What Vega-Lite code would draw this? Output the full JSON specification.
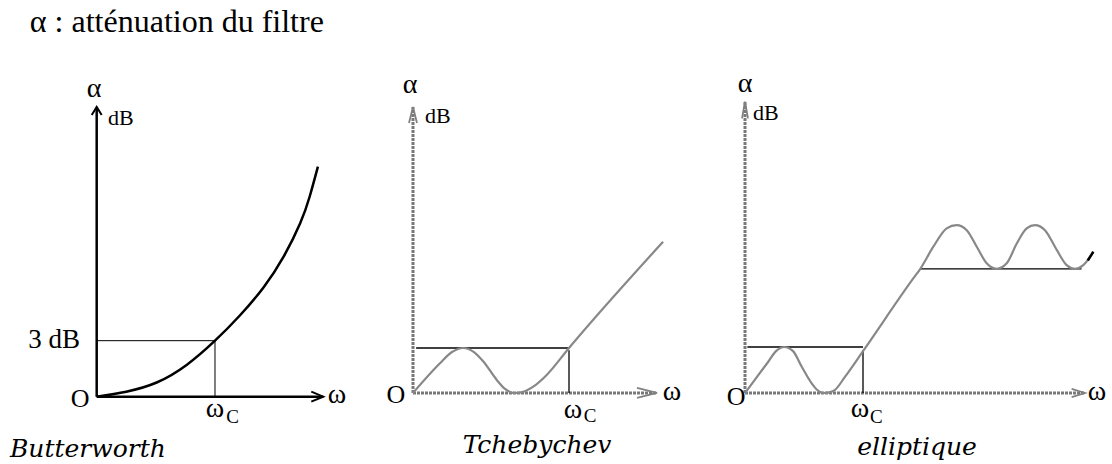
{
  "$schema": "https://vega.github.io/schema/vega-lite/v6.json",
  "padding": 0,
  "spacing": 0,
  "bounds": "flush",
  "background": "white",
  "config": {"view": {"stroke": null}, "text": {"font": "Liberation Serif, Times New Roman, Times, serif", "color": "black"}},
  "resolve": {"scale": {"x": "independent", "y": "independent"}},
  "hconcat": [
    {
      "width": 370,
      "height": 464,
      "encoding": {
        "x": {"field": "w", "type": "quantitative", "scale": {"domain": [-0.8174, 2.3103], "nice": false, "zero": false}, "axis": null},
        "y": {"field": "a", "type": "quantitative", "scale": {"domain": [-3.605, 21.248], "nice": false, "zero": false}, "axis": null}
      },
      "layer": [
        {
          "data": {"values": [{"w": 0, "a": 3, "w2": 1, "a2": 3}, {"w": 1, "a": 0, "w2": 1, "a2": 3}]},
          "mark": {"type": "rule", "color": "black", "strokeWidth": 1},
          "encoding": {"x2": {"field": "w2"}, "y2": {"field": "a2"}}
        },
        {
          "data": {"values": [{"w": 0, "a": 0, "w2": 0, "a2": 15.52}, {"w": 0, "a": 0, "w2": 1.915, "a2": 0}]},
          "mark": {"type": "rule", "color": "black", "strokeWidth": 2.5},
          "encoding": {"x2": {"field": "w2"}, "y2": {"field": "a2"}}
        },
        {
          "data": {"values": [
            {"w": -0.042, "a": 15.09, "g": "y", "o": 1}, {"w": 0, "a": 15.52, "g": "y", "o": 2}, {"w": 0.042, "a": 15.09, "g": "y", "o": 3},
            {"w": 1.814, "a": 0.268, "g": "x", "o": 1}, {"w": 1.915, "a": 0, "g": "x", "o": 2}, {"w": 1.814, "a": -0.268, "g": "x", "o": 3}
          ]},
          "mark": {"type": "line", "color": "black", "strokeWidth": 2},
          "encoding": {"detail": {"field": "g"}, "order": {"field": "o"}}
        },
        {
          "data": {"values": [
            {"w": 0, "a": 0}, {"w": 0.25, "a": 0.27}, {"w": 0.507, "a": 0.76}, {"w": 0.76, "a": 1.7}, {"w": 1.0, "a": 3.0},
            {"w": 1.21, "a": 4.35}, {"w": 1.41, "a": 5.85}, {"w": 1.58, "a": 7.5}, {"w": 1.72, "a": 9.29}, {"w": 1.8, "a": 10.71}, {"w": 1.87, "a": 12.32}
          ]},
          "mark": {"type": "line", "color": "black", "strokeWidth": 2.5, "interpolate": "natural"},
          "encoding": {"order": {"field": "w"}}
        },
        {
          "data": {"values": [{"w": -0.565, "a": 19.52, "t": "α : atténuation du filtre"}]},
          "mark": {"type": "text", "fontSize": 32, "align": "left", "baseline": "alphabetic"},
          "encoding": {"text": {"field": "t"}}
        },
        {
          "data": {"values": [{"w": -0.023, "a": 16.05, "t": "α"}, {"w": 2.031, "a": -0.34, "t": "ω"}, {"w": 1.0, "a": -1.09, "t": "ω"}]},
          "mark": {"type": "text", "fontSize": 28, "align": "center", "baseline": "alphabetic"},
          "encoding": {"text": {"field": "t"}}
        },
        {
          "data": {"values": [{"w": 0.0955, "a": 14.55, "t": "dB"}]},
          "mark": {"type": "text", "fontSize": 22, "align": "left", "baseline": "alphabetic"},
          "encoding": {"text": {"field": "t"}}
        },
        {
          "data": {"values": [{"w": -0.141, "a": 2.6, "t": "3 dB"}]},
          "mark": {"type": "text", "fontSize": 27, "align": "right", "baseline": "alphabetic"},
          "encoding": {"text": {"field": "t"}}
        },
        {
          "data": {"values": [{"w": -0.141, "a": -0.57, "t": "O"}]},
          "mark": {"type": "text", "fontSize": 26, "align": "center", "baseline": "alphabetic"},
          "encoding": {"text": {"field": "t"}}
        },
        {
          "data": {"values": [{"w": 1.095, "a": -1.41, "t": "C"}]},
          "mark": {"type": "text", "fontSize": 19, "align": "left", "baseline": "alphabetic"},
          "encoding": {"text": {"field": "t"}}
        },
        {
          "data": {"values": [{"w": -0.733, "a": -3.23, "t": "Butterworth"}]},
          "mark": {"type": "text", "font": "DejaVu Serif", "fontSize": 25, "fontStyle": "italic", "align": "left", "baseline": "alphabetic"},
          "encoding": {"text": {"field": "t"}}
        }
      ]
    },
    {
      "width": 330,
      "height": 464,
      "encoding": {
        "x": {"field": "w", "type": "quantitative", "scale": {"domain": [-0.2756, 1.8397], "nice": false, "zero": false}, "axis": null},
        "y": {"field": "a", "type": "quantitative", "scale": {"domain": [-1.578, 8.733], "nice": false, "zero": false}, "axis": null}
      },
      "layer": [
        {
          "data": {"values": [{"w": 0, "a": 0, "w2": 0, "a2": 6.356}, {"w": 0, "a": 0, "w2": 1.564, "a2": 0}]},
          "mark": {"type": "rule", "color": "#787878", "strokeWidth": 3, "strokeDash": [3, 1]},
          "encoding": {"x2": {"field": "w2"}, "y2": {"field": "a2"}}
        },
        {
          "data": {"values": [
            {"w": -0.0256, "a": 6.0, "g": "y", "o": 1}, {"w": 0, "a": 6.356, "g": "y", "o": 2}, {"w": 0.0256, "a": 6.0, "g": "y", "o": 3},
            {"w": 1.436, "a": 0.111, "g": "x", "o": 1}, {"w": 1.564, "a": 0, "g": "x", "o": 2}, {"w": 1.436, "a": -0.111, "g": "x", "o": 3}
          ]},
          "mark": {"type": "line", "color": "#808080", "strokeWidth": 1.8},
          "encoding": {"detail": {"field": "g"}, "order": {"field": "o"}}
        },
        {
          "data": {"values": [{"w": 0.02, "a": 1, "w2": 1, "a2": 1}, {"w": 1, "a": 0, "w2": 1, "a2": 0.95}]},
          "mark": {"type": "rule", "color": "black", "strokeWidth": 1.3},
          "encoding": {"x2": {"field": "w2"}, "y2": {"field": "a2"}}
        },
        {
          "data": {"values": [
            {"w": 0, "a": 0}, {"w": 0.173, "a": 0.66}, {"w": 0.25, "a": 0.91}, {"w": 0.322, "a": 1.0}, {"w": 0.391, "a": 0.91},
            {"w": 0.451, "a": 0.7}, {"w": 0.537, "a": 0.29}, {"w": 0.59, "a": 0.09}, {"w": 0.654, "a": 0}, {"w": 0.718, "a": 0.04},
            {"w": 0.771, "a": 0.14}, {"w": 0.857, "a": 0.4}, {"w": 1.0, "a": 1.0}, {"w": 1.603, "a": 3.36}
          ]},
          "mark": {"type": "line", "color": "#888888", "strokeWidth": 2.2, "interpolate": "monotone"},
          "encoding": {"order": {"field": "w"}}
        },
        {
          "data": {"values": [{"w": -0.019, "a": 6.667, "t": "α"}, {"w": 1.66, "a": -0.156, "t": "ω"}, {"w": 1.025, "a": -0.556, "t": "ω"}]},
          "mark": {"type": "text", "fontSize": 28, "align": "center", "baseline": "alphabetic"},
          "encoding": {"text": {"field": "t"}}
        },
        {
          "data": {"values": [{"w": 0.077, "a": 6.0, "t": "dB"}]},
          "mark": {"type": "text", "fontSize": 22, "align": "left", "baseline": "alphabetic"},
          "encoding": {"text": {"field": "t"}}
        },
        {
          "data": {"values": [{"w": -0.109, "a": -0.222, "t": "O"}]},
          "mark": {"type": "text", "fontSize": 26, "align": "center", "baseline": "alphabetic"},
          "encoding": {"text": {"field": "t"}}
        },
        {
          "data": {"values": [{"w": 1.095, "a": -0.644, "t": "C"}]},
          "mark": {"type": "text", "fontSize": 19, "align": "left", "baseline": "alphabetic"},
          "encoding": {"text": {"field": "t"}}
        },
        {
          "data": {"values": [{"w": 0.795, "a": -1.333, "t": "Tchebychev"}]},
          "mark": {"type": "text", "font": "DejaVu Serif", "fontSize": 25, "fontStyle": "italic", "align": "center", "baseline": "alphabetic"},
          "encoding": {"text": {"field": "t"}}
        }
      ]
    },
    {
      "width": 412,
      "height": 464,
      "encoding": {
        "x": {"field": "w", "type": "quantitative", "scale": {"domain": [-0.3814, 3.1102], "nice": false, "zero": false}, "axis": null},
        "y": {"field": "a", "type": "quantitative", "scale": {"domain": [-1.5435, 8.5435], "nice": false, "zero": false}, "axis": null}
      },
      "layer": [
        {
          "data": {"values": [{"w": 0, "a": 0, "w2": 0, "a2": 6.333}, {"w": 0, "a": 0, "w2": 2.881, "a2": 0}]},
          "mark": {"type": "rule", "color": "#787878", "strokeWidth": 3, "strokeDash": [3, 1]},
          "encoding": {"x2": {"field": "w2"}, "y2": {"field": "a2"}}
        },
        {
          "data": {"values": [
            {"w": -0.025, "a": 5.97, "g": "y", "o": 1}, {"w": 0, "a": 6.333, "g": "y", "o": 2}, {"w": 0.025, "a": 5.97, "g": "y", "o": 3},
            {"w": 2.768, "a": 0.091, "g": "x", "o": 1}, {"w": 2.881, "a": 0, "g": "x", "o": 2}, {"w": 2.768, "a": -0.091, "g": "x", "o": 3}
          ]},
          "mark": {"type": "line", "color": "#808080", "strokeWidth": 1.8},
          "encoding": {"detail": {"field": "g"}, "order": {"field": "o"}}
        },
        {
          "data": {"values": [
            {"w": 0.02, "a": 1, "w2": 1, "a2": 1},
            {"w": 1, "a": 0, "w2": 1, "a2": 0.93},
            {"w": 1.483, "a": 2.7, "w2": 2.852, "a2": 2.7}
          ]},
          "mark": {"type": "rule", "color": "black", "strokeWidth": 1.3},
          "encoding": {"x2": {"field": "w2"}, "y2": {"field": "a2"}}
        },
        {
          "data": {"values": [
            {"w": 0, "a": 0}, {"w": 0.197, "a": 0.68}, {"w": 0.263, "a": 0.91}, {"w": 0.333, "a": 1.0}, {"w": 0.407, "a": 0.91},
            {"w": 0.481, "a": 0.57}, {"w": 0.565, "a": 0.21}, {"w": 0.61, "a": 0.07}, {"w": 0.664, "a": 0}, {"w": 0.72, "a": 0.02},
            {"w": 0.763, "a": 0.07}, {"w": 0.847, "a": 0.35}, {"w": 1.003, "a": 0.92}, {"w": 1.426, "a": 2.49}, {"w": 1.483, "a": 2.69},
            {"w": 1.596, "a": 3.18}, {"w": 1.709, "a": 3.58}, {"w": 1.794, "a": 3.65}, {"w": 1.879, "a": 3.54}, {"w": 1.964, "a": 3.18},
            {"w": 2.048, "a": 2.82}, {"w": 2.133, "a": 2.7}, {"w": 2.218, "a": 2.82}, {"w": 2.303, "a": 3.25}, {"w": 2.387, "a": 3.58},
            {"w": 2.458, "a": 3.65}, {"w": 2.542, "a": 3.54}, {"w": 2.642, "a": 3.11}, {"w": 2.726, "a": 2.78}, {"w": 2.797, "a": 2.7},
            {"w": 2.867, "a": 2.78}, {"w": 2.952, "a": 3.07}
          ]},
          "mark": {"type": "line", "color": "#888888", "strokeWidth": 2.2, "interpolate": "monotone"},
          "encoding": {"order": {"field": "w"}}
        },
        {
          "data": {"values": [{"w": 2.905, "a": 2.88}, {"w": 2.952, "a": 3.07}]},
          "mark": {"type": "line", "color": "black", "strokeWidth": 2.5},
          "encoding": {"order": {"field": "w"}}
        },
        {
          "data": {"values": [{"w": 0, "a": 6.543, "t": "α"}, {"w": 2.983, "a": -0.152, "t": "ω"}, {"w": 0.975, "a": -0.522, "t": "ω"}]},
          "mark": {"type": "text", "fontSize": 28, "align": "center", "baseline": "alphabetic"},
          "encoding": {"text": {"field": "t"}}
        },
        {
          "data": {"values": [{"w": 0.068, "a": 5.935, "t": "dB"}]},
          "mark": {"type": "text", "fontSize": 22, "align": "left", "baseline": "alphabetic"},
          "encoding": {"text": {"field": "t"}}
        },
        {
          "data": {"values": [{"w": -0.076, "a": -0.261, "t": "O"}]},
          "mark": {"type": "text", "fontSize": 26, "align": "center", "baseline": "alphabetic"},
          "encoding": {"text": {"field": "t"}}
        },
        {
          "data": {"values": [{"w": 1.06, "a": -0.652, "t": "C"}]},
          "mark": {"type": "text", "fontSize": 19, "align": "left", "baseline": "alphabetic"},
          "encoding": {"text": {"field": "t"}}
        },
        {
          "data": {"values": [{"w": 1.458, "a": -1.348, "t": "elliptique"}]},
          "mark": {"type": "text", "font": "DejaVu Serif", "fontSize": 25, "fontStyle": "italic", "align": "center", "baseline": "alphabetic"},
          "encoding": {"text": {"field": "t"}}
        }
      ]
    }
  ]
}
